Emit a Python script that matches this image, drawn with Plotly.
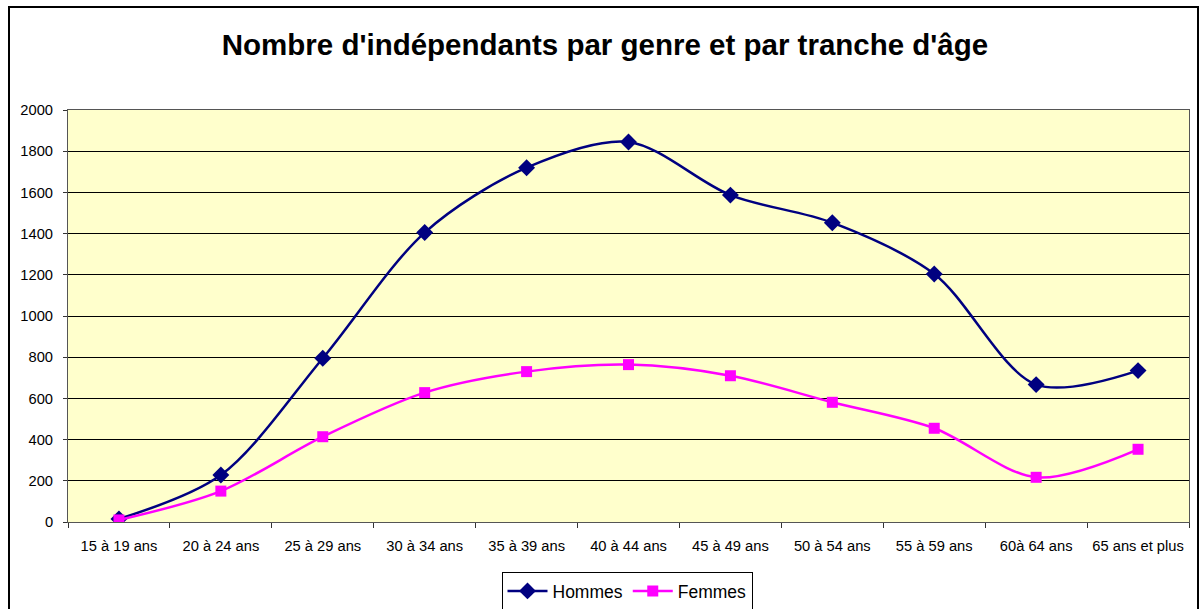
import plotly.graph_objects as go

categories = ["15 à 19 ans", "20 à 24 ans", "25 à 29 ans", "30 à 34 ans", "35 à 39 ans",
              "40 à 44 ans", "45 à 49 ans", "50 à 54 ans", "55 à 59 ans", "60à 64 ans",
              "65 ans et plus"]
hommes = [15, 228, 795, 1405, 1720, 1845, 1587, 1453, 1204, 667, 735]
femmes = [10, 150, 414, 628, 730, 764, 710, 581, 455, 217, 353]
y_ticks = [0, 200, 400, 600, 800, 1000, 1200, 1400, 1600, 1800, 2000]

FONT = "Liberation Sans, Arial, sans-serif"

fig = go.Figure()
fig.add_trace(go.Scatter(
    x=categories, y=hommes, name="Hommes", mode="lines+markers",
    line=dict(color="#000080", width=2.5, shape="spline", smoothing=0.9),
    marker=dict(symbol="diamond", size=13, color="#000080"),
))
fig.add_trace(go.Scatter(
    x=categories, y=femmes, name="Femmes", mode="lines+markers",
    line=dict(color="#FF00FF", width=2.5, shape="spline", smoothing=0.9),
    marker=dict(symbol="square", size=11, color="#FF00FF"),
))

L, R, T, B = 68, 13, 110, 87
W, H = 1202, 609
pw, ph = W - L - R, H - T - B

def px(x):
    return (x - L) / pw

def py(y):
    return (H - B - y) / ph

fig.update_layout(
    width=W, height=H,
    margin=dict(l=L, r=R, t=T, b=B, autoexpand=False),
    paper_bgcolor="white",
    plot_bgcolor="#FFFFCC",
    font=dict(family=FONT, size=14.7, color="black"),
    title=dict(text="<b>Nombre d'indépendants par genre et par tranche d'âge</b>",
               x=605 / W, xanchor="center", y=1 - 45 / H, yanchor="middle",
               font=dict(family=FONT, size=29.5, color="black")),
    showlegend=True,
    legend=dict(orientation="h", xref="container", yref="container",
                x=627 / W, xanchor="center", y=1 - 591 / H, yanchor="middle",
                bordercolor="black", borderwidth=1, bgcolor="white",
                font=dict(family=FONT, size=17.5, color="black"),
                itemwidth=40, tracegroupgap=0),
    xaxis=dict(
        type="category", showgrid=False, ticks="outside", tickson="boundaries",
        ticklen=5, tickcolor="#333333", showline=True, linecolor="#555555", linewidth=1,
        mirror=True, tickfont=dict(family=FONT, size=14.7, color="black"),
        ticklabelstandoff=10, automargin=False,
        range=[-0.5, len(categories) - 0.5], fixedrange=True,
    ),
    yaxis=dict(
        range=[0, 2000], tickvals=y_ticks, showgrid=True, gridcolor="black", gridwidth=1,
        ticks="outside", ticklen=4, tickcolor="#333333", showline=True, linecolor="#555555",
        linewidth=1, mirror=True, zeroline=False, ticklabelstandoff=7, automargin=False,
        tickfont=dict(family=FONT, size=14.7, color="black"),
    ),
    shapes=[dict(type="rect", xref="paper", yref="paper",
                 x0=px(9), x1=px(1198), y0=py(615), y1=py(7),
                 line=dict(color="black", width=2), fillcolor="rgba(0,0,0,0)", layer="below")],
)

fig.write_html("out.html", config={"displayModeBar": False},
               post_script="document.body.style.margin='0';document.body.style.overflow='hidden';")
